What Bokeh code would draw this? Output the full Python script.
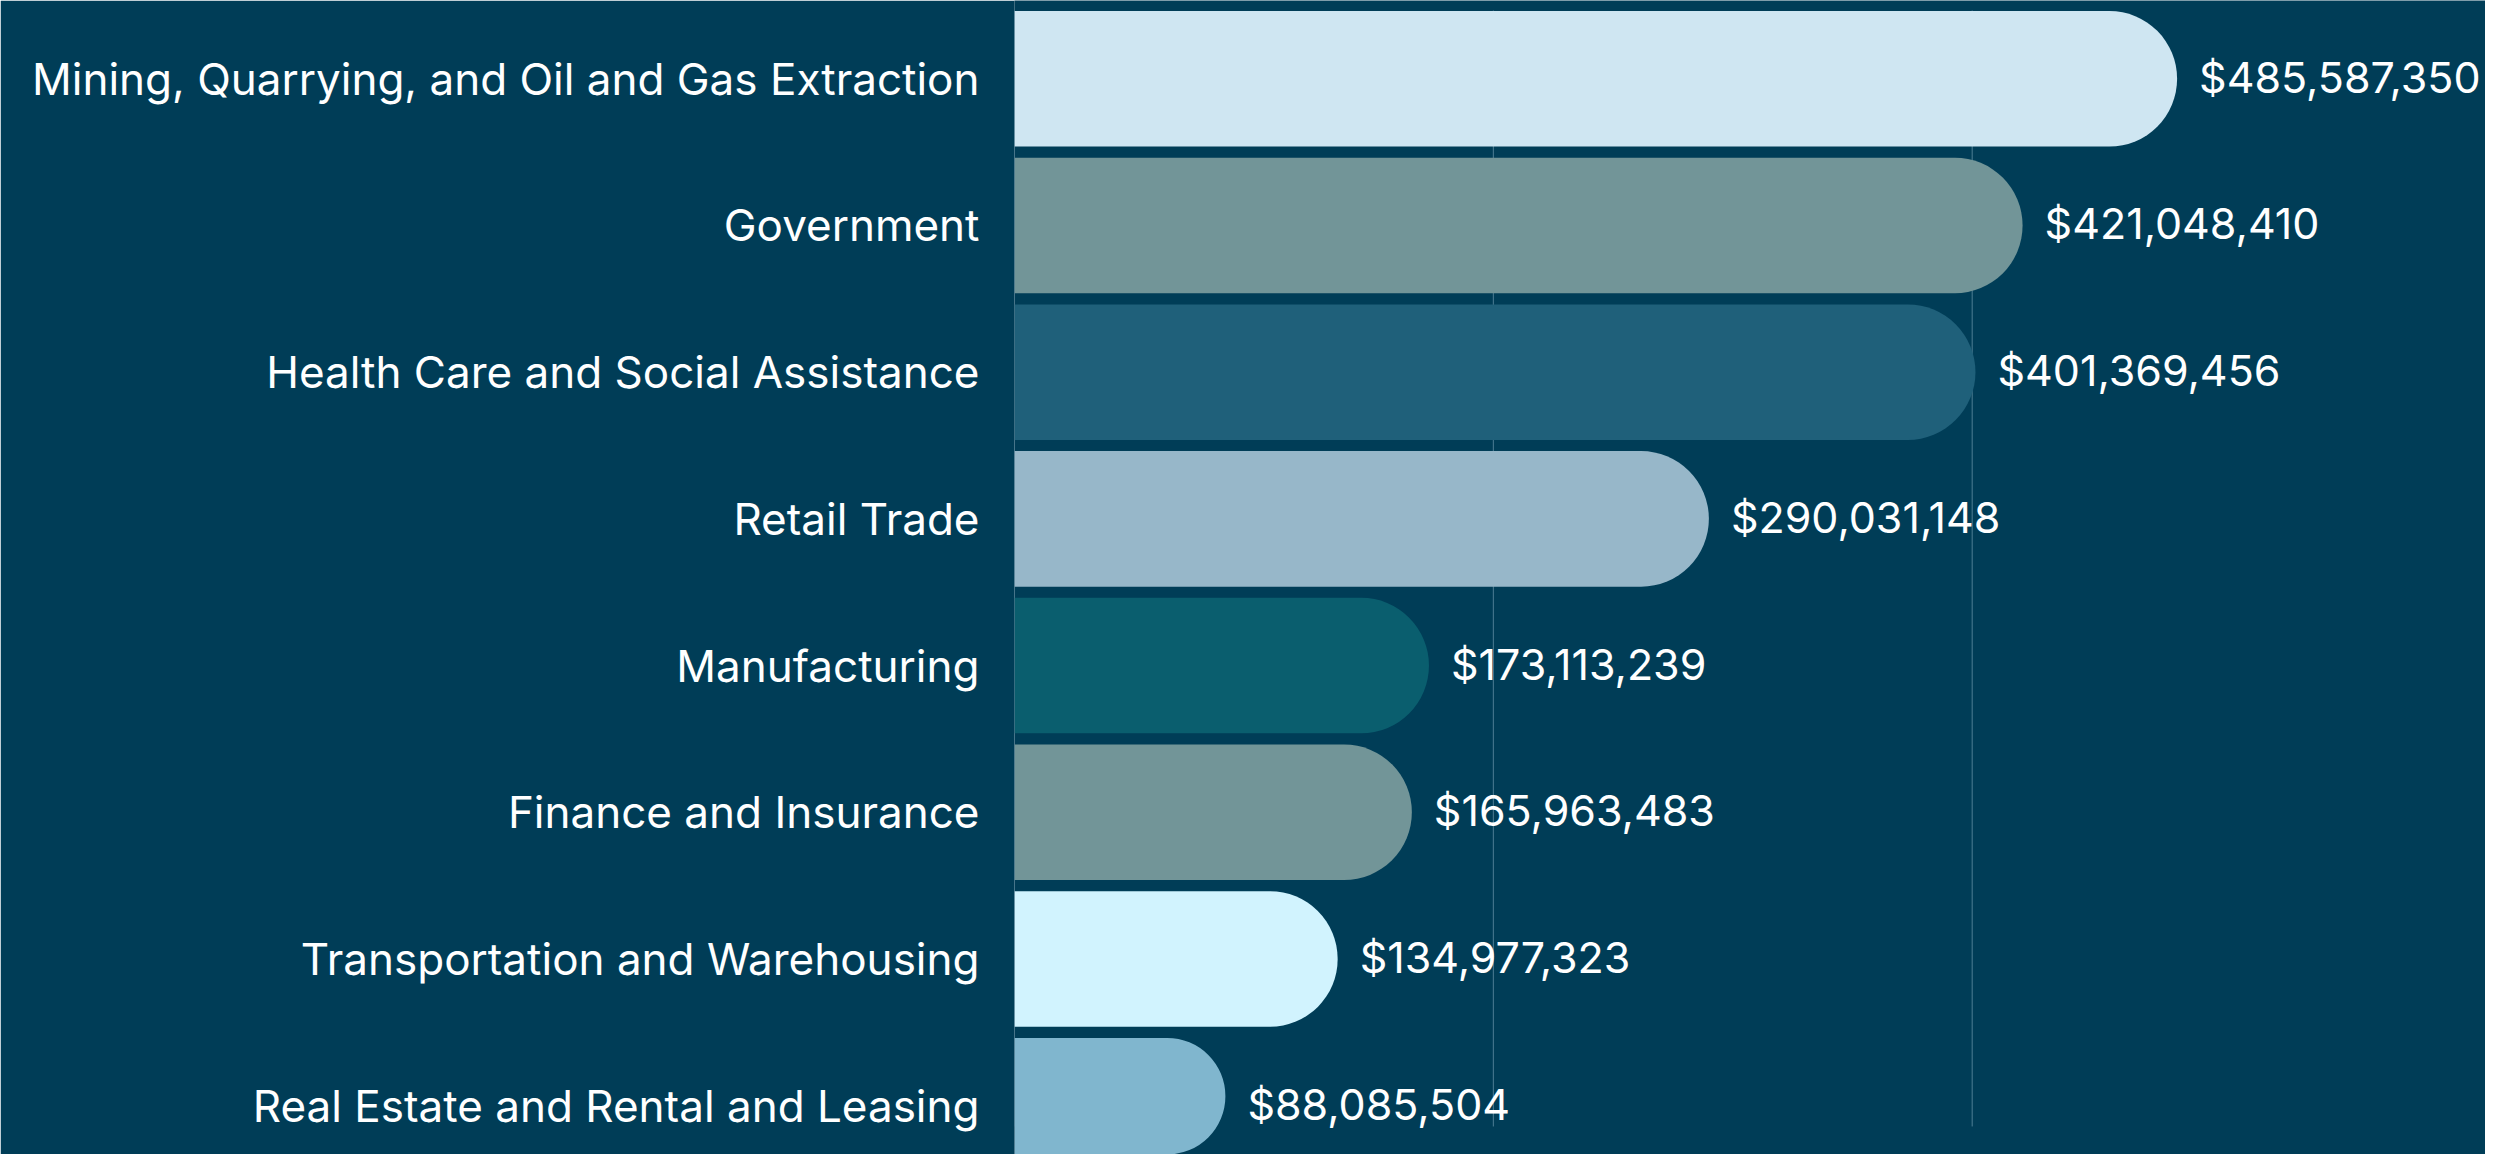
from bokeh.plotting import figure
from bokeh.models import Range1d, FixedTicker
from bokeh.embed import file_html
from bokeh.resources import INLINE
from bokeh.core.properties import value

# ---- data ----
categories = [
    "Mining, Quarrying, and Oil and Gas Extraction",
    "Government",
    "Health Care and Social Assistance",
    "Retail Trade",
    "Manufacturing",
    "Finance and Insurance",
    "Transportation and Warehousing",
    "Real Estate and Rental and Leasing",
]
values = [485587350, 421048410, 401369456, 290031148, 173113239, 165963483, 134977323, 88085504]
value_labels = ["$485,587,350", "$421,048,410", "$401,369,456", "$290,031,148",
                "$173,113,239", "$165,963,483", "$134,977,323", "$88,085,504"]
colors = ["#CFE6F2", "#729598", "#1F607A", "#97B7C9", "#0A5E6E", "#729598", "#D1F3FE", "#80B6CE"]
grid_values = [0, 200_000_000, 400_000_000]

BG = "#003D57"
FONT = "Inter"
W, H = 2485, 1154
positions = list(range(len(categories)))

p = figure(width=W, height=H, output_backend="svg", toolbar_location=None,
           x_range=Range1d(0, 614.4e6), y_range=Range1d(7.333, -0.5337),
           x_axis_type=None,
           min_border_left=1014, min_border_right=0, min_border_top=0, min_border_bottom=0,
           background_fill_color=BG, border_fill_color=BG, outline_line_color=None)
p.xgrid.visible = False
p.ygrid.visible = False

yax = p.yaxis[0]
yax.ticker = FixedTicker(ticks=positions)
yax.major_label_overrides = {i: c for i, c in zip(positions, categories)}
yax.axis_line_color = None
yax.major_tick_line_color = None
yax.minor_tick_line_color = None
yax.major_tick_out = 0
yax.major_tick_in = 0
yax.major_label_standoff = 35
yax.major_label_text_font = FONT
yax.major_label_text_font_size = "44px"
yax.major_label_text_color = "#FFFFFF"

# grid lines
p.segment(x0=grid_values, x1=grid_values, y0=-0.4655, y1=7.142,
          line_color="#4E7E94", line_width=1)

# bars with rounded right ends
p.hbar(y=positions, left=0, right=values, height=0.924, fill_color=colors,
       line_color=None, border_radius=(0, 68, 68, 0))

# value labels
p.text(x=values, y=positions, text=value_labels, x_offset=22, y_offset=-2,
       text_align="left", text_baseline="middle", text_color="#FFFFFF",
       text_font=value(FONT), text_font_size="43px")

open("out.html", "w").write(file_html(p, INLINE))
